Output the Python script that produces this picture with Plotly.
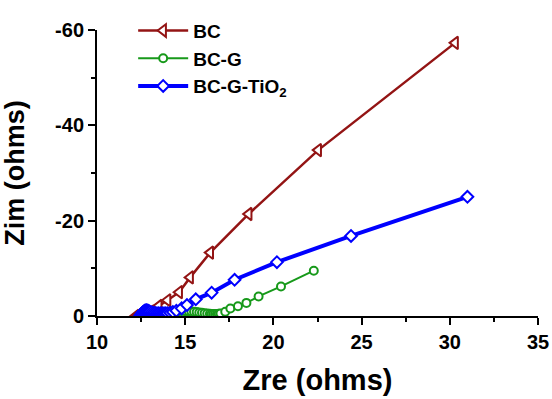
import plotly.graph_objects as go

# Data (Zre in ohms, Zim in ohms; Zim negative as plotted)
bc_zre = [12.2, 12.3, 12.4, 12.5, 12.6, 12.75, 12.9, 13.05, 13.2, 13.5, 14.0, 14.66, 15.28,
          16.42, 18.6, 22.54, 30.3]
bc_zim = [0.0, -0.05, -0.1, -0.2, -0.3, -0.45, -0.6, -0.9, -1.2, -2.1, -3.3, -5.0, -8.1,
          -13.3, -21.4, -34.8, -57.3]

bcg_zre = [13.2, 13.4, 13.6, 13.8, 14.0, 14.2, 14.4, 14.6, 14.8, 15.0, 15.2, 15.35, 15.5,
           15.65, 15.8, 15.95, 16.1, 16.25, 16.4, 16.5, 16.6, 16.7, 16.8, 16.9, 17.0,
           17.27, 17.56, 17.99, 18.47, 19.16, 20.43, 22.29]
bcg_zim = [-0.3, -0.45, -0.6, -0.75, -0.85, -0.95, -1.0, -1.03, -1.05, -1.03, -1.0, -0.95, -0.9,
           -0.82, -0.75, -0.68, -0.6, -0.52, -0.45, -0.42, -0.4, -0.4, -0.4, -0.45, -0.55,
           -0.9, -1.58, -2.06, -2.75, -4.1, -6.2, -9.5]

tio_zre = [12.45, 12.5, 12.55, 12.6, 12.65, 12.7, 12.75, 12.8, 12.85, 12.9, 12.95, 13.0, 13.1,
           13.2, 13.3, 13.4, 13.5, 13.6, 13.7, 13.8, 13.9, 14.0, 14.15, 14.3,
           14.5, 14.8, 15.1, 15.6, 16.5, 17.8, 20.2, 24.4, 31.0]
tio_zim = [-0.1, -0.3, -0.55, -0.8, -0.95, -1.1, -1.15, -1.2, -1.15, -1.1, -1.0, -0.9, -0.8,
           -0.7, -0.65, -0.6, -0.58, -0.55, -0.55, -0.55, -0.57, -0.6, -0.7, -0.85,
           -1.1, -1.6, -2.3, -3.5, -4.9, -7.6, -11.3, -16.8, -25.0]

x_ticks = [10, 15, 20, 25, 30, 35]
x_ticktext = ["10", "15", "20", "25", "30", "35"]
y_ticks = [0, -20, -40, -60]
y_ticktext = ["0", "-20", "-40", "-60"]

FONT = "Liberation Sans, Arial, sans-serif"

fig = go.Figure()
fig.add_trace(go.Scatter(
    x=bc_zre, y=bc_zim, mode="lines+markers", name="BC", legendgroup="g0",
    line=dict(color="#931414", width=2.5),
    marker=dict(symbol="triangle-left", size=11, color="white",
                line=dict(color="#931414", width=2)),
))
fig.add_trace(go.Scatter(
    x=bcg_zre, y=bcg_zim, mode="lines+markers", name="BC-G", legendgroup="g1",
    line=dict(color="#17991A", width=2),
    marker=dict(symbol="circle", size=8, color="white",
                line=dict(color="#17991A", width=2)),
))
fig.add_trace(go.Scatter(
    x=tio_zre, y=tio_zim, mode="lines+markers", name="BC-G-TiO<sub>2</sub>", legendgroup="g2",
    line=dict(color="#0000FF", width=4),
    marker=dict(symbol="diamond", size=9, color="white",
                line=dict(color="#0000FF", width=2)),
))

axis_common = dict(
    showline=True, linecolor="black", linewidth=2, mirror=False,
    ticks="outside", ticklen=7, tickwidth=2, tickcolor="black",
    showgrid=False, zeroline=False, automargin=False,
    tickfont=dict(family=FONT, size=20, color="black", weight="bold"),
)

fig.update_layout(
    width=552, height=399,
    margin=dict(l=97, r=14, t=25, b=83),
    paper_bgcolor="white", plot_bgcolor="white",
    showlegend=True,
    legend=dict(
        x=0.082, y=1.064, xanchor="left", yanchor="top",
        bgcolor="rgba(0,0,0,0)", borderwidth=0,
        font=dict(family=FONT, size=19, color="black", weight="bold"),
        itemwidth=50,
        tracegroupgap=0,
    ),
    xaxis=dict(
        range=[10, 35], tickvals=x_ticks, ticktext=x_ticktext,
        minor=dict(dtick=2.5, tick0=10, ticks="outside", ticklen=4, tickwidth=2, tickcolor="black"),
        title=dict(text="Zre (ohms)", font=dict(family=FONT, size=29, color="black", weight="bold"),
                   standoff=18),
        **axis_common,
    ),
    yaxis=dict(
        range=[0, -60], tickvals=y_ticks, ticktext=y_ticktext,
        minor=dict(dtick=10, tick0=0, ticks="outside", ticklen=4, tickwidth=2, tickcolor="black"),
        title=dict(text="Zim (ohms)", font=dict(family=FONT, size=27, color="black", weight="bold"),
                   standoff=26),
        **axis_common,
    ),
)

fig.write_html("out.html",
               config={"displayModeBar": False},
               post_script="document.body.style.margin='0';document.body.style.overflow='hidden';")
